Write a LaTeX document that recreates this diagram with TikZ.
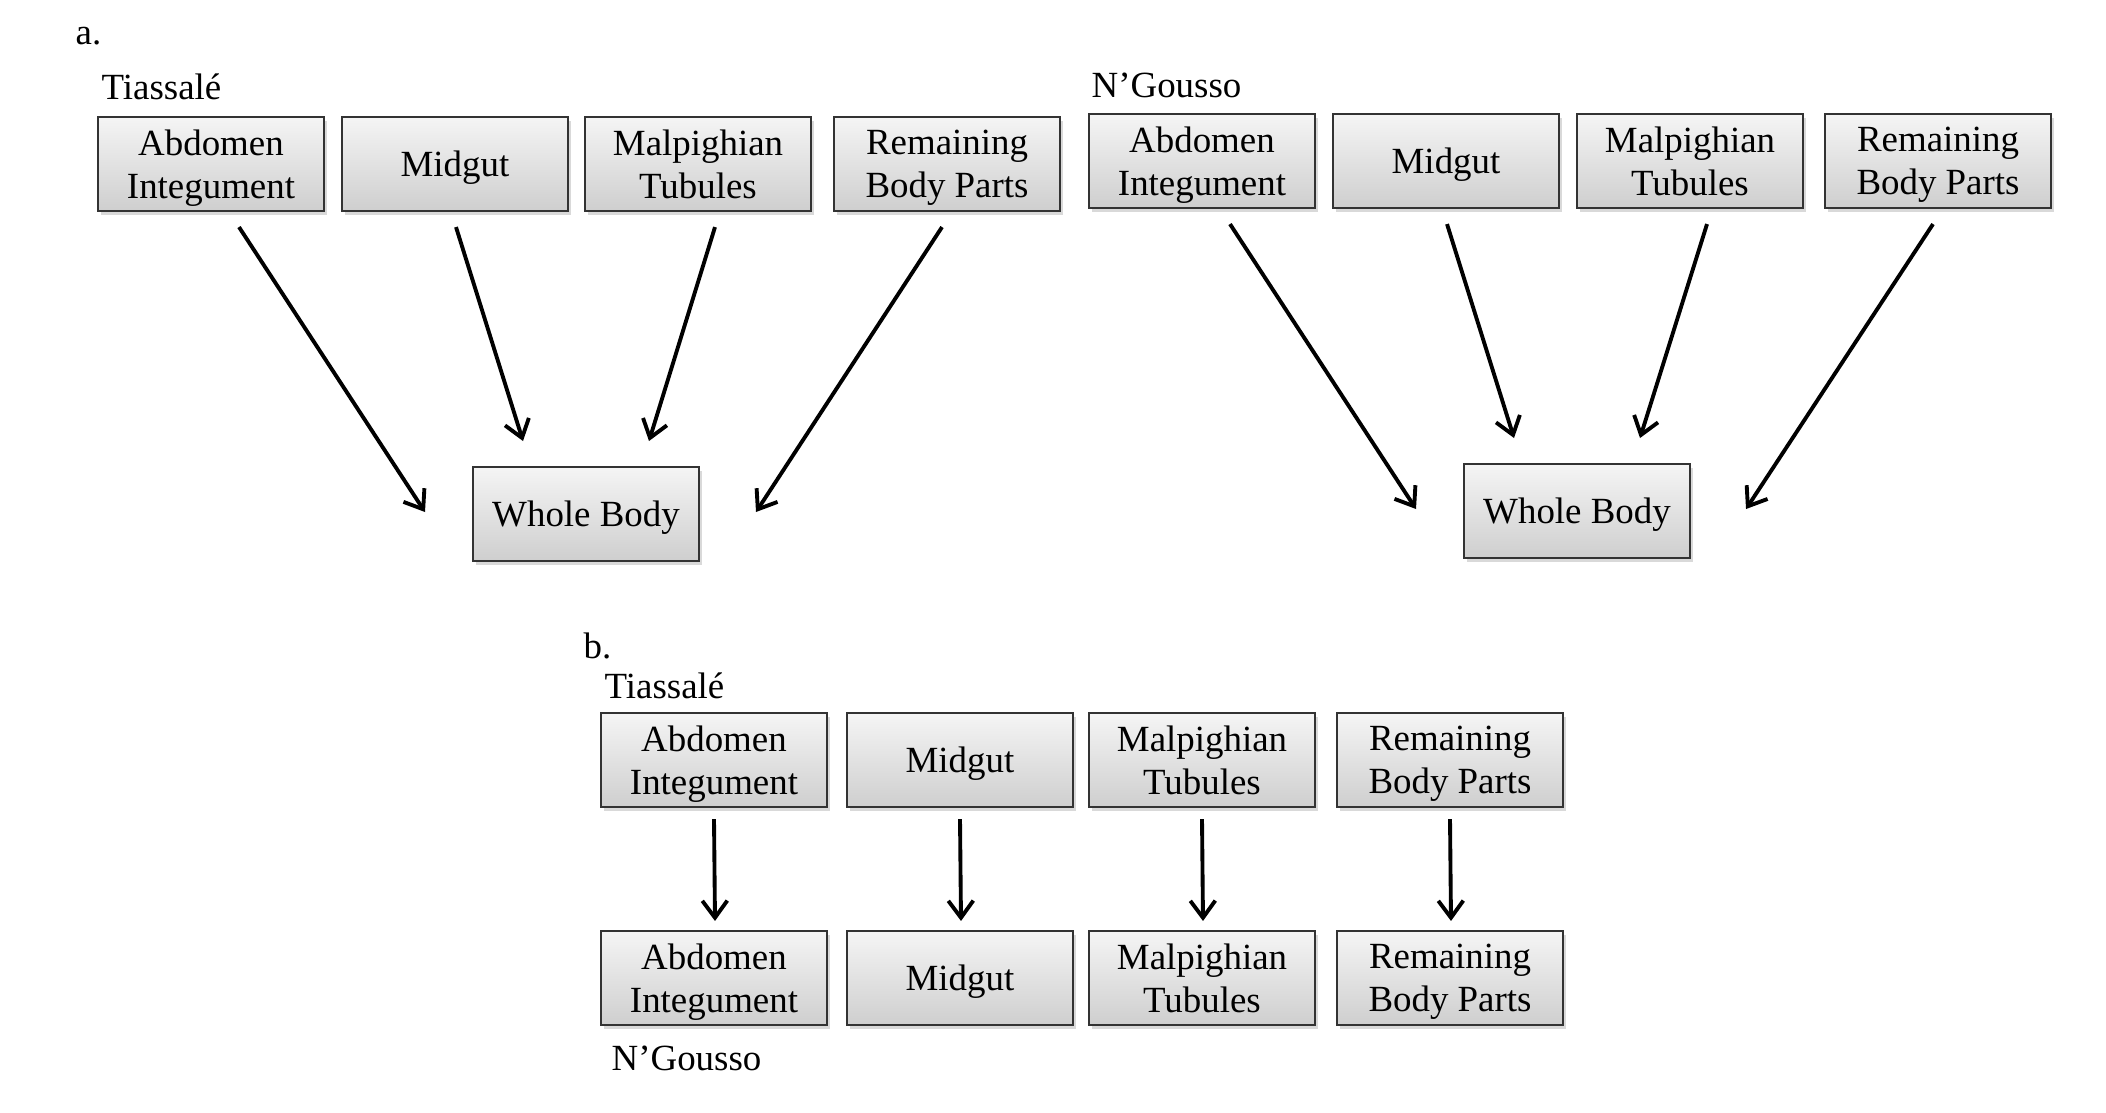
\documentclass[tikz,border=0pt]{standalone}
\usepackage{fontspec}
\setmainfont{Liberation Serif}
\usetikzlibrary{shadows,arrows.meta,calc}
\tikzset{part/.style={draw=black!80,line width=0.6pt,top color=gray!8,bottom color=gray!38,
    minimum width=22.6mm,minimum height=9.4mm,inner sep=0pt,align=center,text depth=-3pt,
    font=\fontsize{10.5}{12.2}\selectfont,
    drop shadow={opacity=0.3,shadow xshift=0.3mm,shadow yshift=-0.4mm}},
  lbl/.style={anchor=west,inner sep=0pt,font=\fontsize{10.5}{12.6}\selectfont},
  arr/.style={-{Straight Barb[length=1.7mm,width=2.5mm]},line width=1.1pt}}

\begin{document}
\begin{tikzpicture}[x=0.1mm,y=-0.1mm]
\useasboundingbox (0,0) rectangle (2106,1112);
% a. Tiassale
\node[lbl] (la) at (75,36) {a.};
\node[lbl] (ti1) at (101,87) {Tiassalé};
\node[part] (ab1) at (211,164) {Abdomen\\Integument};
\node[part] (mg1) at (455,164) {Midgut};
\node[part] (mt1) at (698,164) {Malpighian\\Tubules};
\node[part] (rb1) at (947,164) {Remaining\\Body Parts};
\node[part] (wb1) at (586,514) {Whole Body};
\draw[arr] ($(ab1.south)+(28,15)$) -- ($(wb1)+(-161,-2)$);
\draw[arr] ($(mg1.south)+(1,15)$) -- ($(wb1)+(-63,-73)$);
\draw[arr] ($(mt1.south)+(17,15)$) -- ($(wb1)+(63,-73)$);
\draw[arr] ($(rb1.south)+(-5,15)$) -- ($(wb1)+(170,-2)$);
% a. N'Gousso
\node[lbl] (ng1) at (1091,85) {N’Gousso};
\node[part] (ab2) at (1202,161) {Abdomen\\Integument};
\node[part] (mg2) at (1446,161) {Midgut};
\node[part] (mt2) at (1690,161) {Malpighian\\Tubules};
\node[part] (rb2) at (1938,161) {Remaining\\Body Parts};
\node[part] (wb2) at (1577,511) {Whole Body};
\draw[arr] ($(ab2.south)+(28,15)$) -- ($(wb2)+(-161,-2)$);
\draw[arr] ($(mg2.south)+(1,15)$) -- ($(wb2)+(-63,-73)$);
\draw[arr] ($(mt2.south)+(17,15)$) -- ($(wb2)+(63,-73)$);
\draw[arr] ($(rb2.south)+(-5,15)$) -- ($(wb2)+(169,-2)$);
% b.
\node[lbl] (lb) at (583,646) {b.};
\node[lbl] (ti2) at (604,686) {Tiassalé};
\node[part] (ab3) at (714,760) {Abdomen\\Integument};
\node[part] (mg3) at (960,760) {Midgut};
\node[part] (mt3) at (1202,760) {Malpighian\\Tubules};
\node[part] (rb3) at (1450,760) {Remaining\\Body Parts};
\node[part] (ab4) at (714,978) {Abdomen\\Integument};
\node[part] (mg4) at (960,978) {Midgut};
\node[part] (mt4) at (1202,978) {Malpighian\\Tubules};
\node[part] (rb4) at (1450,978) {Remaining\\Body Parts};
\node[lbl] (ng2) at (611,1058) {N’Gousso};
\draw[arr] ($(ab3.south)+(0,11)$) -- ($(ab4.north)+(1,-9)$);
\draw[arr] ($(mg3.south)+(0,11)$) -- ($(mg4.north)+(1,-9)$);
\draw[arr] ($(mt3.south)+(0,11)$) -- ($(mt4.north)+(1,-9)$);
\draw[arr] ($(rb3.south)+(0,11)$) -- ($(rb4.north)+(1,-9)$);
\end{tikzpicture}
\end{document}
